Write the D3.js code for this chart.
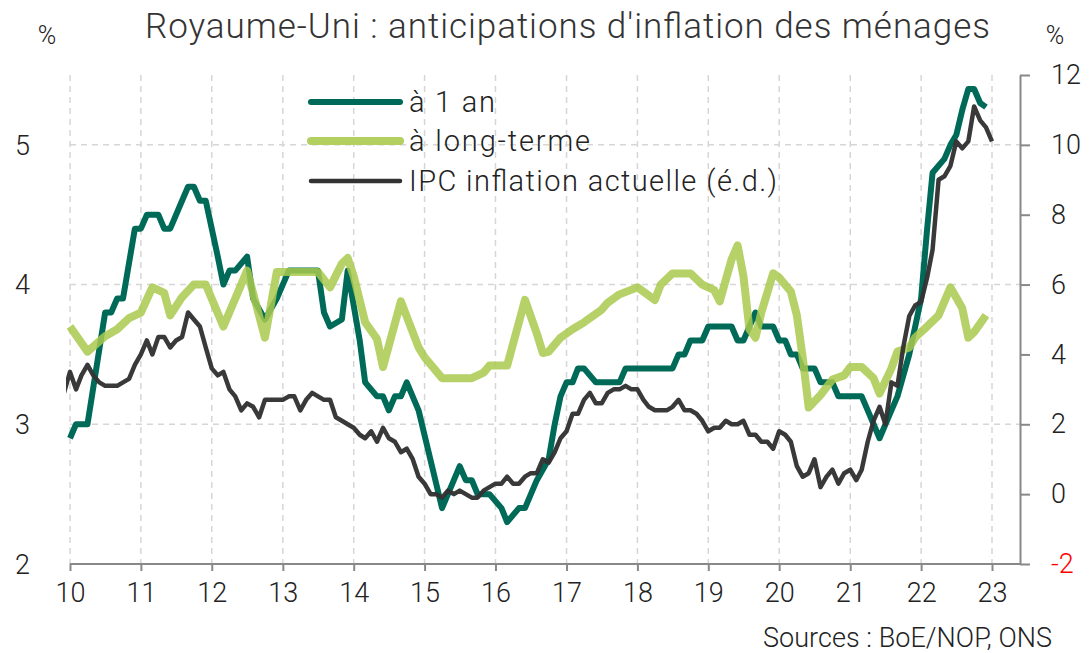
<!DOCTYPE html>
<meta charset="utf-8">
<script src="https://d3js.org/d3.v7.min.js"></script>
<style>
  body { margin: 0; background: #fff; }
  text { font-family: "Roboto", "DejaVu Sans Condensed", sans-serif; font-weight: 300; }
</style>
<div id="chart"></div>
<script>

// anticipations a 1 an (axe gauche)
var oneYearDates = ["2010-01","2010-02","2010-04","2010-07","2010-08","2010-09","2010-10","2010-12",
  "2011-01","2011-02","2011-04","2011-05","2011-06","2011-08","2011-09","2011-10","2011-11","2011-12",
  "2012-02","2012-03","2012-04","2012-05","2012-07","2012-08","2012-10","2012-12",
  "2013-01","2013-02","2013-07","2013-08","2013-09","2013-11","2013-12",
  "2014-02","2014-03","2014-05","2014-06","2014-07","2014-08","2014-09","2014-10","2014-12",
  "2015-04","2015-07","2015-08","2015-09","2015-10","2015-12",
  "2016-02","2016-03","2016-05","2016-06","2016-08","2016-10","2016-11","2016-12",
  "2017-01","2017-02","2017-03","2017-04","2017-06","2017-10","2017-11",
  "2018-07","2018-08","2018-09","2018-10","2018-12",
  "2019-01","2019-05","2019-06","2019-07","2019-08","2019-09","2019-10","2019-12",
  "2020-01","2020-02","2020-03","2020-04","2020-05","2020-07","2020-08","2020-10","2020-11",
  "2021-03","2021-04","2021-06","2021-08","2021-09","2021-11",
  "2022-01","2022-02","2022-03","2022-05","2022-06","2022-07","2022-08","2022-09","2022-10","2022-11","2022-12"];
var oneYearValues = [2.9,3.0,3.0,3.8,3.8,3.9,3.9,4.4,
  4.4,4.5,4.5,4.4,4.4,4.6,4.7,4.7,4.6,4.6,
  4.2,4.0,4.1,4.1,4.2,3.9,3.75,3.9,
  4.0,4.1,4.1,3.8,3.7,3.75,4.1,
  3.6,3.3,3.2,3.2,3.1,3.2,3.2,3.3,3.1,
  2.4,2.7,2.6,2.6,2.5,2.5,
  2.4,2.3,2.4,2.4,2.6,2.75,3.0,3.2,
  3.3,3.3,3.4,3.4,3.3,3.3,3.4,
  3.4,3.5,3.5,3.6,3.6,
  3.7,3.7,3.6,3.6,3.7,3.8,3.7,3.7,
  3.6,3.6,3.5,3.5,3.4,3.4,3.3,3.3,3.2,
  3.2,3.1,2.9,3.1,3.2,3.5,
  3.9,4.4,4.8,4.9,5.0,5.07,5.25,5.4,5.4,5.3,5.27];

// anticipations a long terme (axe gauche)
var longTermDates = ["2010-01","2010-04","2010-07","2010-09","2010-11",
  "2011-01","2011-03","2011-05","2011-06","2011-08","2011-10","2011-12",
  "2012-03","2012-07","2012-10","2012-12",
  "2013-07","2013-09","2013-11","2013-12",
  "2014-01","2014-03","2014-05","2014-06","2014-09","2014-12",
  "2015-01","2015-04","2015-09","2015-11","2015-12",
  "2016-03","2016-05","2016-06","2016-08","2016-09","2016-10","2016-12",
  "2017-02","2017-04","2017-07","2017-08","2017-10",
  "2018-01","2018-04","2018-05","2018-07","2018-10","2018-12",
  "2019-02","2019-03","2019-05","2019-06","2019-07","2019-08","2019-09","2019-10","2019-12",
  "2020-01","2020-03","2020-04","2020-05","2020-06","2020-08","2020-10","2020-12",
  "2021-01","2021-03","2021-05","2021-06","2021-08","2021-09","2021-11","2021-12",
  "2022-02","2022-04","2022-06","2022-08","2022-09","2022-10","2022-12"];
var longTermValues = [3.7,3.52,3.63,3.68,3.76,
  3.8,3.98,3.94,3.78,3.91,4.0,4.0,
  3.7,4.1,3.62,4.09,
  4.09,3.98,4.15,4.19,
  4.06,3.73,3.61,3.41,3.88,3.55,
  3.48,3.33,3.33,3.37,3.42,
  3.42,3.73,3.89,3.65,3.51,3.52,3.62,
  3.68,3.73,3.82,3.87,3.93,
  3.98,3.89,4.0,4.08,4.08,4.0,
  3.96,3.88,4.18,4.28,4.06,3.68,3.62,3.8,4.08,
  4.05,3.95,3.78,3.48,3.12,3.21,3.32,3.35,
  3.41,3.41,3.33,3.22,3.40,3.52,3.55,3.62,
  3.7,3.78,3.98,3.83,3.62,3.66,3.78];

// IPC, glissement annuel, mensuel de 2009-12 a 2023-01 (axe droit)
var cpiStart = "2009-12";
var cpiValues = [2.9,
  3.5,3.0,3.4,3.7,3.4,3.2,3.1,3.1,3.1,3.2,3.3,3.7,
  4.0,4.4,4.0,4.5,4.5,4.2,4.4,4.5,5.2,5.0,4.8,4.2,
  3.6,3.4,3.5,3.0,2.8,2.4,2.6,2.5,2.2,2.7,2.7,2.7,
  2.7,2.8,2.8,2.4,2.7,2.9,2.8,2.7,2.7,2.2,2.1,2.0,
  1.9,1.7,1.6,1.8,1.5,1.9,1.6,1.5,1.2,1.3,1.0,0.5,
  0.3,0.0,0.0,-0.1,0.1,0.0,0.1,0.0,-0.1,-0.1,0.1,0.2,
  0.3,0.3,0.5,0.3,0.3,0.5,0.6,0.6,1.0,0.9,1.2,1.6,
  1.8,2.3,2.3,2.7,2.9,2.6,2.6,2.9,3.0,3.0,3.1,3.0,
  3.0,2.7,2.5,2.4,2.4,2.4,2.5,2.7,2.4,2.4,2.3,2.1,
  1.8,1.9,1.9,2.1,2.0,2.0,2.1,1.7,1.7,1.5,1.5,1.3,
  1.8,1.7,1.5,0.8,0.5,0.6,1.0,0.2,0.5,0.7,0.3,0.6,
  0.7,0.4,0.7,1.5,2.1,2.5,2.0,3.2,3.1,4.2,5.1,5.4,
  5.5,6.2,7.0,9.0,9.1,9.4,10.1,9.9,10.1,11.1,10.7,10.5,
  10.1];

var yearTicks = ["10","11","12","13","14","15","16","17","18","19","20","21","22","23"];
var leftTicks = [2, 3, 4, 5];
var rightTicks = [-2, 0, 2, 4, 6, 8, 10, 12];
var legendLabels = ["à 1 an", "à long-terme", "IPC inflation actuelle (é.d.)"];

var width = 1089, height = 653;
var margin = {left: 70, right: 1020, top: 75, bottom: 564};

var parse = d3.timeParse("%Y-%m");

var svg = d3.select("#chart").append("svg")
    .attr("width", width)
    .attr("height", height);

var x = d3.scaleTime()
    .domain([parse("2010-01"), parse("2023-01")])
    .range([70, 992]);
var yL = d3.scaleLinear().domain([2, 5.5]).range([margin.bottom, margin.top]);
var yR = d3.scaleLinear().domain([-2, 12]).range([margin.bottom, margin.top]);

// grille
var grid = svg.append("g")
    .attr("stroke", "#d6d6d6")
    .attr("stroke-width", 1.5)
    .attr("stroke-dasharray", "6,5");
grid.selectAll(".v").data(yearTicks).enter().append("line")
    .attr("x1", function(d) { return x(parse("20" + d + "-01")); })
    .attr("x2", function(d) { return x(parse("20" + d + "-01")); })
    .attr("y1", margin.top).attr("y2", margin.bottom);
grid.selectAll(".h").data([3, 4, 5]).enter().append("line")
    .attr("x1", margin.left).attr("x2", margin.right)
    .attr("y1", function(d) { return yL(d); })
    .attr("y2", function(d) { return yL(d); });

// axe X
var xAxis = svg.append("g")
    .attr("transform", "translate(0," + margin.bottom + ")")
    .call(d3.axisBottom(x)
        .tickValues(yearTicks.map(function(d) { return parse("20" + d + "-01"); }))
        .tickFormat(d3.timeFormat("%y"))
        .tickSize(7).tickPadding(12));
xAxis.select(".domain").remove();
xAxis.selectAll("line").attr("stroke", "#888").attr("stroke-width", 2);
xAxis.selectAll("text").attr("font-size", 27).style("fill", "#222");
svg.append("line")
    .attr("x1", margin.left).attr("x2", margin.right)
    .attr("y1", margin.bottom).attr("y2", margin.bottom)
    .attr("stroke", "#888").attr("stroke-width", 2);

// axe gauche (sans trait)
svg.append("g").selectAll("text").data(leftTicks).enter().append("text")
    .attr("x", 30)
    .attr("y", function(d) { return yL(d); })
    .attr("dy", "0.36em")
    .attr("text-anchor", "end")
    .attr("font-size", 27)
    .style("fill", "#222")
    .text(function(d) { return d; });

// axe droit
var rAxis = svg.append("g")
    .attr("transform", "translate(" + margin.right + ",0)")
    .call(d3.axisRight(yR).tickValues(rightTicks).tickSize(10).tickPadding(21).tickSizeOuter(0)
        .tickFormat(function(d) { return String(d); }));
rAxis.select(".domain").attr("stroke", "#888").attr("stroke-width", 2);
rAxis.selectAll("line").attr("stroke", "#888").attr("stroke-width", 2);
rAxis.selectAll("text").attr("font-size", 27)
    .style("fill", function(d) { return d < 0 ? "#ff0000" : "#222"; });

// courbes
svg.append("clipPath").attr("id", "clip")
    .append("rect").attr("x", 66).attr("y", 0).attr("width", 1000).attr("height", height);

var oneYear = oneYearDates.map(function(d, i) { return {date: parse(d), v: oneYearValues[i]}; });
var longTerm = longTermDates.map(function(d, i) { return {date: parse(d), v: longTermValues[i]}; });
var cpi = cpiValues.map(function(v, i) { return {date: d3.timeMonth.offset(parse(cpiStart), i), v: v}; });

var lineL = d3.line().x(function(d) { return x(d.date); }).y(function(d) { return yL(d.v); });
var lineR = d3.line().x(function(d) { return x(d.date); }).y(function(d) { return yR(d.v); });

var plot = svg.append("g").attr("clip-path", "url(#clip)");
plot.append("path").attr("d", lineL(oneYear))
    .attr("fill", "none").attr("stroke", "#006a59").attr("stroke-width", 6)
    .attr("stroke-linejoin", "round");
plot.append("path").attr("d", lineL(longTerm))
    .attr("fill", "none").attr("stroke", "#a8c94e").attr("stroke-opacity", 0.85).attr("stroke-width", 8)
    .attr("stroke-linejoin", "round");
plot.append("path").attr("d", lineR(cpi))
    .attr("fill", "none").attr("stroke", "#333").attr("stroke-opacity", 0.97).attr("stroke-width", 4.5)
    .attr("stroke-linejoin", "round");

// legende
var legColors = ["#006a59", "#b3cf5f", "#333"];
var legWidths = [6, 8, 4.5];
var legLens = [86, 181, 368];
var leg = svg.append("g").selectAll("g").data(legendLabels).enter().append("g")
    .attr("transform", function(d, i) { return "translate(0," + [102, 141, 181][i] + ")"; });
leg.append("line")
    .attr("x1", 311).attr("x2", 400)
    .attr("stroke", function(d, i) { return legColors[i]; })
    .attr("stroke-width", function(d, i) { return legWidths[i]; })
    .attr("stroke-linecap", "round");
leg.append("text")
    .attr("x", 409).attr("dy", "0.36em")
    .attr("font-size", 29)
    .attr("textLength", function(d, i) { return legLens[i]; })
    .attr("lengthAdjust", "spacing")
    .style("fill", "#222")
    .text(function(d) { return d; });

// titres
svg.append("text")
    .attr("x", 145).attr("y", 38)
    .attr("font-size", 35)
    .attr("textLength", 845).attr("lengthAdjust", "spacing")
    .style("fill", "#333")
    .text("Royaume-Uni : anticipations d'inflation des ménages");
svg.append("text").attr("x", 47).attr("y", 44).attr("text-anchor", "middle")
    .attr("font-size", 25).style("fill", "#222").text("%");
svg.append("text").attr("x", 1055).attr("y", 44).attr("text-anchor", "middle")
    .attr("font-size", 25).style("fill", "#222").text("%");
svg.append("text")
    .attr("x", 763).attr("y", 647)
    .attr("font-size", 27)
    .attr("textLength", 289).attr("lengthAdjust", "spacing")
    .style("fill", "#222")
    .text("Sources : BoE/NOP, ONS");

</script>
